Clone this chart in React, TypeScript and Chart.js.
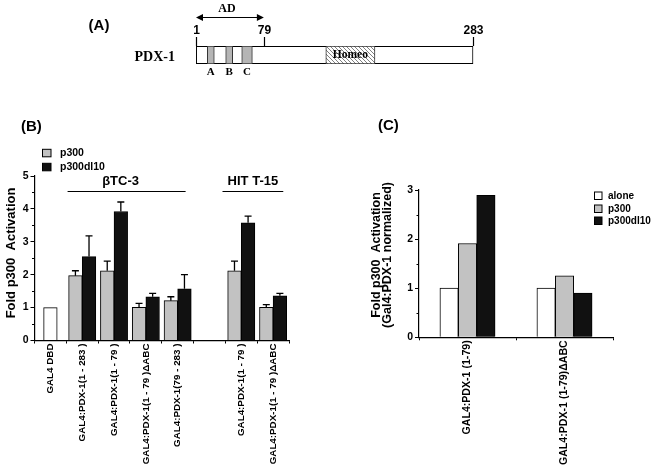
import React, { useEffect, useRef } from 'react';
import { Chart, registerables } from 'chart.js';

Chart.register(...registerables);

const SANS = '"Liberation Sans", Arial, Helvetica, sans-serif';
const SERIF = '"Liberation Serif", "Times New Roman", serif';

// ---------- Panel A (schematic, positions in schematic map units) ----------
const proteinName = 'PDX-1';
const proteinRange = [1, 283];
const motifNames = ['A', 'B', 'C'];
const motifStart = [12.5, 31.2, 47.5];
const motifEnd = [19.6, 38.3, 58.3];
const homeoLabel = 'Homeo';
const homeoRange = [133, 183];
const markerLabels = ['1', '79', '283'];
const markerPos = [1, 70, 283];
const adLabel = 'AD';
const adRange = [1, 70];

// ---------- Panel B ----------
const bCategories = [
  'GAL4 DBD',
  'GAL4:PDX-1(1 - 283 )',
  'GAL4:PDX-1(1 - 79 )',
  'GAL4:PDX-1(1 - 79 )ΔABC',
  'GAL4:PDX-1(79 - 283 )',
  '',
  'GAL4:PDX-1(1 - 79 )',
  'GAL4:PDX-1(1 - 79 )ΔABC',
];
const bAlone = [1, null, null, null, null, null, null, null];
const bP300 = [null, 1.97, 2.12, 1.01, 1.21, null, 2.12, 1.01];
const bP300Err = [null, 0.15, 0.29, 0.12, 0.12, null, 0.29, 0.08];
const bDl10 = [null, 2.55, 3.92, 1.33, 1.57, null, 3.58, 1.36];
const bDl10Err = [null, 0.63, 0.29, 0.1, 0.43, null, 0.2, 0.07];
const bCellLines = ['βTC-3', 'HIT T-15'];
const bCellFrom = [0.54, 5.41];
const bCellTo = [4.25, 7.32];
const bYMax = 5;
const bLegend = ['p300', 'p300dl10'];

// ---------- Panel C ----------
const cCategories = ['GAL4:PDX-1 (1-79)', 'GAL4:PDX-1 (1-79)ΔABC'];
const cAlone = [1, 1];
const cP300 = [1.91, 1.25];
const cDl10 = [2.89, 0.9];
const cYMax = 3;
const cLegend = ['alone', 'p300', 'p300dl10'];

const seriesNames = ['alone', 'p300', 'p300dl10'];
const WHITE = '#ffffff';
const GRAY = '#c2c2c2';
const BLACK = '#111111';
const seriesColors = [WHITE, GRAY, BLACK];

function vtext(ctx: CanvasRenderingContext2D, text: string, x: number, y: number, font: string) {
  ctx.save();
  ctx.translate(x, y);
  ctx.rotate(-Math.PI / 2);
  ctx.font = font;
  ctx.fillStyle = '#000';
  ctx.textAlign = 'center';
  ctx.textBaseline = 'middle';
  ctx.fillText(text, 0, 0);
  ctx.restore();
}

function text(ctx: CanvasRenderingContext2D, t: string, x: number, y: number, font: string, align: CanvasTextAlign = 'left') {
  ctx.save();
  ctx.font = font;
  ctx.fillStyle = '#000';
  ctx.textAlign = align;
  ctx.textBaseline = 'middle';
  ctx.fillText(t, x, y);
  ctx.restore();
}

const minorTicks = {
  id: 'minorTicks',
  afterDraw(chart: any) {
    const y = chart.scales.y;
    const ctx = chart.ctx;
    const left = chart.chartArea.left;
    ctx.save();
    ctx.strokeStyle = '#000';
    ctx.lineWidth = 1;
    for (let v = 0.5; v < y.max; v += 1) {
      const py = Math.round(y.getPixelForValue(v)) + 0.5;
      ctx.beginPath();
      ctx.moveTo(left - 2.5, py);
      ctx.lineTo(left, py);
      ctx.stroke();
    }
    ctx.restore();
  },
};

const errorBars = {
  id: 'errorBars',
  afterDatasetsDraw(chart: any) {
    const ctx = chart.ctx;
    const y = chart.scales.y;
    ctx.save();
    ctx.strokeStyle = '#000';
    ctx.lineWidth = 1.3;
    chart.data.datasets.forEach((ds: any, di: number) => {
      if (!ds.errors) return;
      const meta = chart.getDatasetMeta(di);
      ds.data.forEach((v: any, i: number) => {
        const e = ds.errors[i];
        if (v == null || e == null) return;
        const el = meta.data[i];
        const x = el.x;
        const top = y.getPixelForValue(v + e);
        ctx.beginPath();
        ctx.moveTo(x, y.getPixelForValue(v));
        ctx.lineTo(x, top);
        ctx.moveTo(x - 3.5, top);
        ctx.lineTo(x + 3.5, top);
        ctx.stroke();
      });
    });
    ctx.restore();
  },
};

const panelA = {
  id: 'panelA',
  afterDraw(chart: any) {
    const ctx = chart.ctx;
    const x = chart.scales.x;
    const ca = chart.chartArea;
    ctx.save();
    ctx.strokeStyle = '#000';
    ctx.lineWidth = 1.2;
    markerPos.forEach((p, i) => {
      const px = Math.round(x.getPixelForValue(p)) + 0.5;
      ctx.beginPath();
      ctx.moveTo(px, ca.top - 9);
      ctx.lineTo(px, ca.top);
      ctx.stroke();
      text(ctx, markerLabels[i], px, ca.top - 15, `bold 12px ${SANS}`, 'center');
    });
    // AD arrow
    const ax0 = x.getPixelForValue(adRange[0]);
    const ax1 = x.getPixelForValue(adRange[1]);
    const ay = 17.5;
    ctx.beginPath();
    ctx.moveTo(ax0 + 4, ay);
    ctx.lineTo(ax1 - 4, ay);
    ctx.stroke();
    ctx.fillStyle = '#000';
    ctx.beginPath();
    ctx.moveTo(ax0, ay);
    ctx.lineTo(ax0 + 7, ay - 3.5);
    ctx.lineTo(ax0 + 7, ay + 3.5);
    ctx.closePath();
    ctx.fill();
    ctx.beginPath();
    ctx.moveTo(ax1, ay);
    ctx.lineTo(ax1 - 7, ay - 3.5);
    ctx.lineTo(ax1 - 7, ay + 3.5);
    ctx.closePath();
    ctx.fill();
    text(ctx, adLabel, (ax0 + ax1) / 2 - 3, 9, `bold 12px ${SERIF}`, 'center');
    // motif letters
    motifNames.forEach((n, i) => {
      const cx = x.getPixelForValue((motifStart[i] + motifEnd[i]) / 2);
      text(ctx, n, cx, ca.bottom + 8, `bold 11px ${SERIF}`, 'center');
    });
    // homeo label
    const hx = x.getPixelForValue((homeoRange[0] + homeoRange[1]) / 2);
    text(ctx, homeoLabel, hx, (ca.top + ca.bottom) / 2, `bold 11.5px ${SERIF}`, 'center');
    // protein name
    text(ctx, proteinName, ca.left - 21, (ca.top + ca.bottom) / 2 + 2, `bold 14px ${SERIF}`, 'right');
    text(ctx, '(A)', 99, 26, `bold 15px ${SANS}`, 'center');
    ctx.restore();
  },
};

const panelB = {
  id: 'panelB',
  afterDraw(chart: any) {
    const ctx = chart.ctx;
    const x = chart.scales.x;
    text(ctx, '(B)', 21, 17, `bold 15px ${SANS}`);
    // legend
    const sq = [
      { c: GRAY, y: 39.3 },
      { c: BLACK, y: 53.3 },
    ];
    sq.forEach((s, i) => {
      ctx.save();
      ctx.fillStyle = s.c;
      ctx.fillRect(42.5, s.y, 8.5, 7.5);
      ctx.strokeStyle = '#000';
      ctx.lineWidth = 1;
      ctx.strokeRect(42.5, s.y, 8.5, 7.5);
      ctx.restore();
      text(ctx, bLegend[i], 60, s.y + 4, `bold 10.5px ${SANS}`);
    });
    // cell line labels
    ctx.save();
    ctx.strokeStyle = '#000';
    ctx.lineWidth = 1;
    bCellLines.forEach((l, i) => {
      const x0 = x.getPixelForValue(bCellFrom[i]);
      const x1 = x.getPixelForValue(bCellTo[i]);
      ctx.beginPath();
      ctx.moveTo(x0, 81.5);
      ctx.lineTo(x1, 81.5);
      ctx.stroke();
      text(ctx, l, (x0 + x1) / 2 - (i === 0 ? 6 : 0), 71.5, `bold 13px ${SANS}`, 'center');
    });
    ctx.restore();
    vtext(ctx, 'Fold p300  Activation', 11, 143, `bold 13px ${SANS}`);
  },
};

const panelC = {
  id: 'panelC',
  afterDraw(chart: any) {
    const ctx = chart.ctx;
    text(ctx, '(C)', 48, 16, `bold 15px ${SANS}`);
    const ys = [82, 95, 107];
    ys.forEach((yy, i) => {
      ctx.save();
      ctx.fillStyle = seriesColors[i];
      ctx.fillRect(264.5, yy, 7.5, 7.5);
      ctx.strokeStyle = '#000';
      ctx.lineWidth = 1;
      ctx.strokeRect(264.5, yy, 7.5, 7.5);
      ctx.restore();
      text(ctx, cLegend[i], 278, yy + 4, `bold 10px ${SANS}`);
    });
    vtext(ctx, 'Fold p300  Activation', 47, 145, `bold 12.5px ${SANS}`);
    vtext(ctx, '(Gal4:PDX-1 normalized)', 58, 145, `bold 12.5px ${SANS}`);
  },
};

function barScales(yMax: number, yWidth: number, xHeight: number, xFontSize: number) {
  const tickFont = { family: SANS, size: 10.5, weight: 'bold' as const };
  return {
    x: {
      grid: { offset: true, drawOnChartArea: false, tickLength: 3, color: '#000', lineWidth: 1 },
      border: { color: '#000', width: 1.2 },
      ticks: {
        autoSkip: false,
        minRotation: 90,
        maxRotation: 90,
        padding: 0,
        color: '#000',
        font: { family: SANS, size: xFontSize, weight: 'bold' as const },
      },
      afterFit: (s: any) => {
        s.height = xHeight;
      },
    },
    y: {
      min: 0,
      max: yMax,
      ticks: { stepSize: 1, padding: 2, color: '#000', font: tickFont },
      grid: { drawOnChartArea: false, tickLength: 4, color: '#000', lineWidth: 1 },
      border: { color: '#000', width: 1.2 },
      afterFit: (s: any) => {
        s.width = yWidth;
      },
    },
  };
}

export default function App() {
  const aRef = useRef<HTMLCanvasElement>(null);
  const bRef = useRef<HTMLCanvasElement>(null);
  const cRef = useRef<HTMLCanvasElement>(null);

  useEffect(() => {
    const charts: Chart[] = [];
    // hatch pattern
    const pc = document.createElement('canvas');
    pc.width = 4;
    pc.height = 4;
    const p = pc.getContext('2d')!;
    p.fillStyle = '#ffffff';
    p.fillRect(0, 0, 4, 4);
    p.strokeStyle = '#808080';
    p.lineWidth = 1;
    p.beginPath();
    p.moveTo(-1, -1);
    p.lineTo(5, 5);
    p.moveTo(-1, 3);
    p.lineTo(1, 5);
    p.moveTo(3, -1);
    p.lineTo(5, 1);
    p.stroke();
    const actx = aRef.current!.getContext('2d')!;
    const hatch = actx.createPattern(pc, 'repeat');

    charts.push(
      new Chart(aRef.current!, {
        type: 'bar',
        data: {
          labels: [proteinName],
          datasets: [
            ...motifNames.map((n, i) => ({
              label: n,
              data: [[motifStart[i], motifEnd[i]]],
              backgroundColor: '#b5b5b5',
              borderColor: '#333',
              borderWidth: 1,
              borderSkipped: false,
              order: 0,
            })),
            {
              label: homeoLabel,
              data: [[homeoRange[0], homeoRange[1]]],
              backgroundColor: hatch as any,
              borderColor: '#333',
              borderWidth: 1,
              borderSkipped: false,
              order: 0,
            },
            {
              label: proteinName,
              data: [[proteinRange[0], proteinRange[1]]],
              backgroundColor: '#ffffff',
              borderColor: '#000',
              borderWidth: 1.3,
              borderSkipped: false,
              order: 1,
            },
          ] as any,
        },
        options: {
          indexAxis: 'y',
          animation: false,
          responsive: false,
          devicePixelRatio: 1,
          layout: { padding: { left: 196, right: 184.7, top: 46, bottom: 36 } },
          datasets: { bar: { grouped: false, categoryPercentage: 1, barPercentage: 1 } } as any,
          scales: {
            x: { type: 'linear', display: false, min: proteinRange[0], max: proteinRange[1] },
            y: { display: false },
          },
          plugins: { legend: { display: false }, tooltip: { enabled: false } },
        },
        plugins: [panelA],
      })
    );

    charts.push(
      new Chart(bRef.current!, {
        type: 'bar',
        data: {
          labels: bCategories,
          datasets: [
            { label: seriesNames[0], data: bAlone, backgroundColor: WHITE, borderColor: '#000', borderWidth: 1 },
            { label: seriesNames[1], data: bP300, errors: bP300Err, backgroundColor: GRAY, borderColor: '#000', borderWidth: 1 },
            { label: seriesNames[2], data: bDl10, errors: bDl10Err, backgroundColor: BLACK, borderColor: '#000', borderWidth: 1 },
          ] as any,
        },
        options: {
          animation: false,
          responsive: false,
          devicePixelRatio: 1,
          layout: { padding: { top: 66, right: 41, left: 0, bottom: 0 } },
          datasets: { bar: { barThickness: 13.6, skipNull: true } } as any,
          plugins: { legend: { display: false }, tooltip: { enabled: false } },
          scales: barScales(bYMax, 34.5, 129.5, 9.8) as any,
        },
        plugins: [errorBars, minorTicks, panelB],
      })
    );

    charts.push(
      new Chart(cRef.current!, {
        type: 'bar',
        data: {
          labels: cCategories,
          datasets: [
            { label: seriesNames[0], data: cAlone, backgroundColor: WHITE, borderColor: '#000', borderWidth: 1 },
            { label: seriesNames[1], data: cP300, backgroundColor: GRAY, borderColor: '#000', borderWidth: 1 },
            { label: seriesNames[2], data: cDl10, backgroundColor: BLACK, borderColor: '#000', borderWidth: 1 },
          ],
        },
        options: {
          animation: false,
          responsive: false,
          devicePixelRatio: 1,
          layout: { padding: { top: 80, right: 45, left: 0, bottom: 0 } },
          datasets: { bar: { barThickness: 18.4 } } as any,
          plugins: { legend: { display: false }, tooltip: { enabled: false } },
          scales: barScales(cYMax, 89, 132.7, 10.6) as any,
        },
        plugins: [minorTicks, panelC],
      })
    );

    return () => charts.forEach((c) => c.destroy());
  }, []);

  return (
    <div style={{ position: 'absolute', left: 0, top: 0, width: 658, height: 470, background: '#fff' }}>
      <canvas ref={aRef} width={658} height={100} style={{ position: 'absolute', left: 0, top: 0 }} />
      <canvas ref={bRef} width={330} height={360} style={{ position: 'absolute', left: 0, top: 110 }} />
      <canvas ref={cRef} width={328} height={360} style={{ position: 'absolute', left: 330, top: 110 }} />
    </div>
  );
}
